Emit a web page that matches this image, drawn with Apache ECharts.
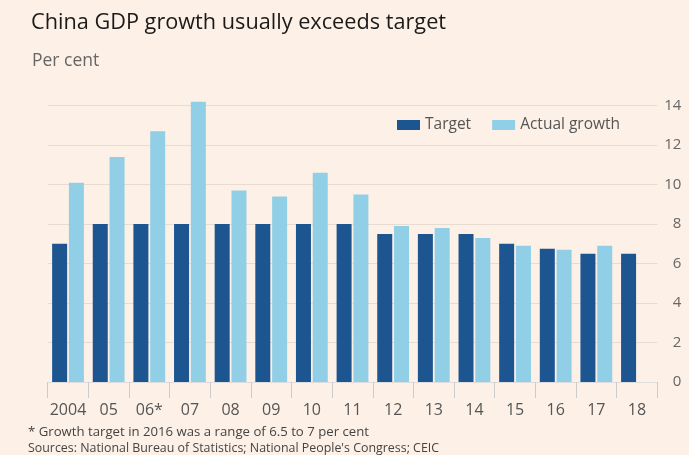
<!DOCTYPE html>
<html>
<head>
<meta charset="utf-8">
<script src="https://cdn.jsdelivr.net/npm/echarts@6/dist/echarts.min.js"></script>
<style>
html,body{margin:0;padding:0;background:#FDF0E6;}
#c{width:689px;height:455px;}
</style>
</head>
<body>
<div id="c"></div>
<script>
const categories = ['2004','05','06*','07','08','09','10','11','12','13','14','15','16','17','18'];
const targetValues = [7, 8, 8, 8, 8, 8, 8, 8, 7.5, 7.5, 7.5, 7, 6.75, 6.5, 6.5];
const actualValues = [10.1, 11.4, 12.7, 14.2, 9.7, 9.4, 10.6, 9.5, 7.9, 7.8, 7.3, 6.9, 6.7, 6.9, null];
const yTicks = [0, 2, 4, 6, 8, 10, 12, 14];

const FONT = 'Open Sans';
const chart = echarts.init(document.getElementById('c'), null, {renderer: 'canvas'});
chart.setOption({
  backgroundColor: '#FDF0E6',
  animation: false,
  textStyle: {fontFamily: FONT},
  title: [
    {text: 'China GDP growth usually exceeds target', left: 26, top: 7,
     textStyle: {fontFamily: FONT, fontSize: 21.7, fontWeight: 'normal', color: '#1a1a1a'}},
    {text: 'Per cent', left: 27, top: 47,
     textStyle: {fontFamily: FONT, fontSize: 17.5, fontWeight: 'normal', color: '#666'}}
  ],
  legend: {
    left: 392, top: 112,
    itemWidth: 23, itemHeight: 10, itemGap: 21,
    icon: 'rect',
    textStyle: {fontFamily: FONT, fontSize: 15.5, color: '#555'},
    data: ['Target', 'Actual growth']
  },
  grid: {left: 47.7, right: 31.7, top: 105.7, bottom: 73, containLabel: false},
  xAxis: {
    type: 'category', data: categories,
    axisLine: {show: true, lineStyle: {color: '#ddd', width: 1}},
    axisTick: {show: true, length: 16, interval: 0, lineStyle: {color: '#ccc'}},
    axisLabel: {fontFamily: FONT, fontSize: 16, color: '#555', margin: 20, interval: 0}
  },
  yAxis: {
    type: 'value', position: 'right', min: 0, max: 14, interval: 2,
    axisLine: {show: false}, axisTick: {show: false},
    splitLine: {lineStyle: {color: '#e8dcd2', width: 1}},
    axisLabel: {fontFamily: FONT, fontSize: 15, color: '#666', align: 'right', margin: 24,
      formatter: v => yTicks.includes(v) ? String(v) : ''}
  },
  series: [
    {name: 'Target', type: 'bar', data: targetValues, barWidth: 15, barGap: '12%',
     clip: false, itemStyle: {color: '#1D5591'}},
    {name: 'Actual growth', type: 'bar', data: actualValues, barWidth: 15,
     clip: false, itemStyle: {color: '#91CFE6'}}
  ],
  graphic: [
    {type: 'text', left: 28, top: 426, style: {text: '* Growth target in 2016 was a range of 6.5 to 7 per cent',
      font: '13.2px "Open Sans"', fill: '#444'}},
    {type: 'text', left: 28, top: 442, style: {text: "Sources: National Bureau of Statistics; National People's Congress; CEIC",
      font: '12.4px "Open Sans"', fill: '#444'}}
  ]
});
</script>
</body>
</html>
